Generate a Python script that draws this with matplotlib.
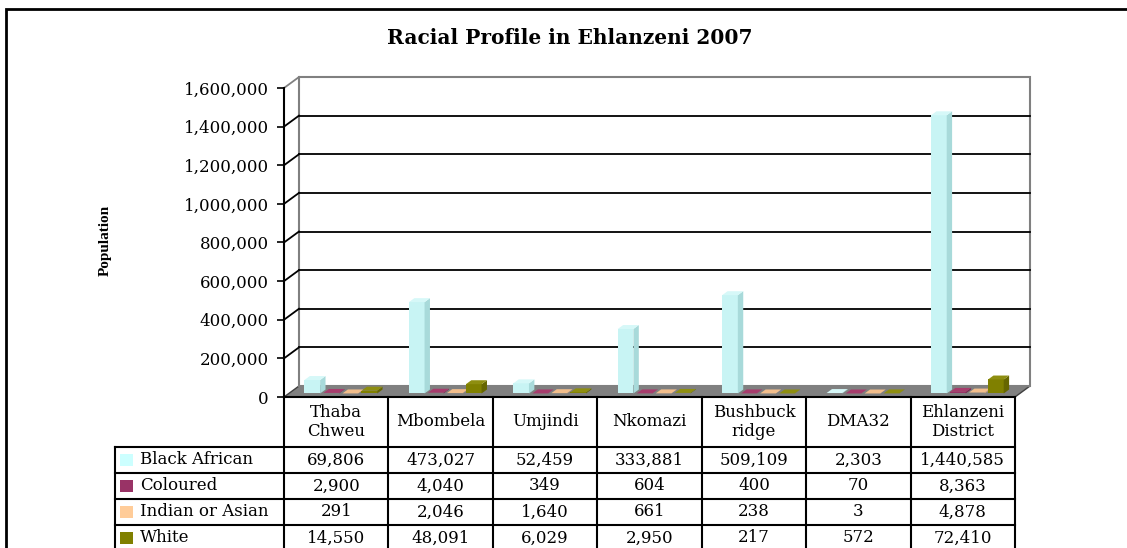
import matplotlib
matplotlib.use("Agg")
import matplotlib.pyplot as plt
from matplotlib.patches import Rectangle, Polygon

# data
categories = ["Thaba\nChweu", "Mbombela", "Umjindi", "Nkomazi", "Bushbuck\nridge", "DMA32", "Ehlanzeni\nDistrict"]
series = ["Black African", "Coloured", "Indian or Asian", "White"]
black_african = [69806, 473027, 52459, 333881, 509109, 2303, 1440585]
coloured = [2900, 4040, 349, 604, 400, 70, 8363]
indian_asian = [291, 2046, 1640, 661, 238, 3, 4878]
white = [14550, 48091, 6029, 2950, 217, 572, 72410]
values = [black_african, coloured, indian_asian, white]
yticks = list(range(0, 1600001, 200000))

# colours: front, side, top
colours = [("#C8F4F4", "#A8DADA", "#D6F8F8"),
           ("#993366", "#7A2850", "#A63C6C"),
           ("#FFCC99", "#E0AA78", "#F2BE8C"),
           ("#808000", "#666600", "#8E8E10")]
swatch = ["#CCFFFF", "#993366", "#FFCC99", "#808000"]

W, H = 1127, 548
fig = plt.figure(figsize=(W / 100, H / 100), dpi=100)
serif = "DejaVu Serif"

# front plane of the 3d box, in pixels
left, right, top, zero = 284, 1015, 88, 397
ax = fig.add_axes([left / W, (H - zero) / H, (right - left) / W, (zero - top) / H])
ncat = len(categories)
ymax = 1600000
ax.set_xlim(0, ncat)
ax.set_ylim(0, ymax)
ax.patch.set_visible(False)
for s in ["top", "right", "bottom"]:
    ax.spines[s].set_visible(False)
ax.spines["left"].set_linewidth(1.5)
ax.set_xticks([])
ax.set_yticks(yticks)
ax.set_yticklabels([f"{v:,}" for v in yticks], fontfamily=serif, fontsize=12)
ax.tick_params(axis="y", length=5, width=1.2, pad=6)

# depth of the box (15 px right, 11 px up)
DX = 15 / (right - left) * ncat
DY = 11 / (zero - top) * ymax

# floor
ax.add_patch(Polygon([(0, 0), (ncat, 0), (ncat + DX, DY), (DX, DY)], closed=True,
                     facecolor="#808080", edgecolor="#404040", lw=1, clip_on=False, zorder=1))
# back wall
ax.add_patch(Rectangle((DX, DY), ncat, ymax, fill=False, edgecolor="#808080", lw=1.5,
                       clip_on=False, zorder=1))
for v in yticks[1:]:
    c = "#808080" if v == ymax else "black"
    if v < ymax:
        ax.plot([DX, ncat + DX], [v + DY, v + DY], color="black", lw=1.3, clip_on=False, zorder=1)
    ax.plot([0, DX], [v, v + DY], color=c, lw=1.3, clip_on=False, zorder=1)

# bars
step = 0.182
bw = 0.15
f0 = 0.32
bdx, bdy = 0.36 * DX, 0.36 * DY
for i, vals in enumerate(values):
    front, side, topc = colours[i]
    xs = [c + 0.15 + i * step + f0 * DX for c in range(ncat)]
    ax.bar(xs, vals, width=bw, bottom=f0 * DY, align="edge", color=front,
           edgecolor="none", clip_on=False, zorder=3)
    for x0, v in zip(xs, vals):
        y0 = f0 * DY
        ax.add_patch(Polygon([(x0 + bw, y0), (x0 + bw + bdx, y0 + bdy),
                              (x0 + bw + bdx, y0 + v + bdy), (x0 + bw, y0 + v)],
                             closed=True, facecolor=side, edgecolor="none", clip_on=False, zorder=3))
        ax.add_patch(Polygon([(x0, y0 + v), (x0 + bw, y0 + v),
                              (x0 + bw + bdx, y0 + v + bdy), (x0 + bdx, y0 + v + bdy)],
                             closed=True, facecolor=topc, edgecolor="none", clip_on=False, zorder=3))

# data table under the chart: x in category units, y in row units
tab_bottom = 551
row_px = 26
col_px = (right - left) / ncat
tab = fig.add_axes([left / W, (H - tab_bottom) / H, (right - left) / W, (tab_bottom - zero) / H])
tab_top = (tab_bottom - zero) / row_px
nrows = len(series)
tab.set_xlim(0, ncat)
tab.set_ylim(0, tab_top)
tab.axis("off")
lab_x = -169 / col_px
lw = 1.5
for c in range(ncat + 1):
    tab.plot([c, c], [0, tab_top], color="black", lw=lw, clip_on=False)
tab.plot([lab_x, lab_x], [0, nrows], color="black", lw=lw, clip_on=False)
tab.plot([0, ncat], [tab_top, tab_top], color="black", lw=lw, clip_on=False)
for r in range(nrows + 1):
    tab.plot([lab_x, ncat], [r, r], color="black", lw=lw, clip_on=False)
for c, name in enumerate(categories):
    tab.text(c + 0.5, (nrows + tab_top) / 2, name, ha="center", va="center",
             fontfamily=serif, fontsize=12, linespacing=1.1)
for i, vals in enumerate(values):
    yc = nrows - i - 0.5
    for c, v in enumerate(vals):
        tab.text(c + 0.5, yc, f"{v:,}", ha="center", va="center", fontfamily=serif, fontsize=12)
    tab.text(lab_x + 25 / col_px, yc, series[i], ha="left", va="center",
             fontfamily=serif, fontsize=12)
    tab.add_patch(Rectangle((lab_x + 5 / col_px, yc - 0.23), 13 / col_px, 0.46,
                            facecolor=swatch[i], edgecolor="none", clip_on=False))

# outer frame
fig.patches.append(Rectangle((6 / W, -0.1), 1.2, 1.1 - 9 / H, transform=fig.transFigure,
                             fill=False, edgecolor="black", lw=2))

fig.text(569.5 / W, 1 - 38 / H, "Racial Profile in Ehlanzeni 2007", ha="center", va="center",
         fontfamily=serif, fontweight="bold", fontsize=14.5)
fig.text(105 / W, 1 - 240 / H, "Population", rotation=90, ha="center", va="center",
         fontfamily="Liberation Serif", fontweight="bold", fontsize=11)

fig.savefig("out.png", dpi=100)
